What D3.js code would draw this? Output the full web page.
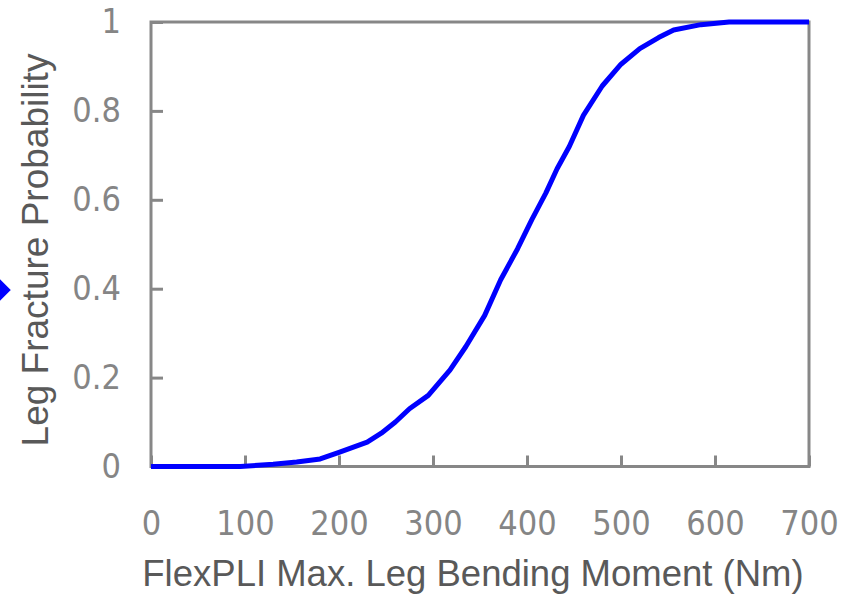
<!DOCTYPE html>
<html>
<head>
<meta charset="utf-8">
<script src="https://cdn.jsdelivr.net/npm/d3@7"></script>
<style>
  html, body { margin: 0; padding: 0; background: #fff; }
  svg { display: block; }
</style>
</head>
<body>
<svg id="chart" width="848" height="595"></svg>
<script>
// Leg fracture risk curve versus FlexPLI maximum bending moment
const moment = [0, 95, 130, 155, 180, 200, 230, 245, 260, 275, 295, 318, 335, 355, 372, 390, 405, 420, 432, 445, 460, 480, 500, 520, 540, 556, 585, 615, 700];
const probability = [0, 0, 0.005, 0.01, 0.017, 0.032, 0.055, 0.075, 0.1, 0.13, 0.16, 0.217, 0.27, 0.34, 0.42, 0.49, 0.555, 0.615, 0.67, 0.72, 0.79, 0.856, 0.905, 0.94, 0.965, 0.982, 0.994, 1, 1];
const xTicks = [0, 100, 200, 300, 400, 500, 600, 700];
const yTicks = [0, 0.2, 0.4, 0.6, 0.8, 1];
const xTitle = "FlexPLI Max. Leg Bending Moment (Nm)";
const yTitle = "Leg Fracture Probability";

const svg = d3.select("#chart");
const plot = { left: 151, right: 809, top: 22, bottom: 466.5 };
const frameColor = "#878787";
const tickFont = "'DejaVu Sans Condensed', 'DejaVu Sans', sans-serif";

const x = d3.scaleLinear().domain([0, 700]).range([plot.left, plot.right]);
const y = d3.scaleLinear().domain([0, 1]).range([plot.bottom, plot.top]);

// marker partly visible at the left edge
svg.append("path")
  .attr("d", d3.symbol().type(d3.symbolDiamond2).size(900)())
  .attr("transform", "translate(-8,290)")
  .attr("fill", "#0000ff");

// plot frame
svg.append("rect")
  .attr("x", plot.left).attr("y", plot.top)
  .attr("width", plot.right - plot.left).attr("height", plot.bottom - plot.top)
  .attr("fill", "none")
  .attr("stroke", frameColor)
  .attr("stroke-width", 3);

// y axis: inward ticks
const gy = svg.append("g")
  .attr("transform", `translate(${plot.left},0)`)
  .call(d3.axisLeft(y).tickValues(yTicks).tickSize(-12).tickPadding(30)
    .tickFormat(d => String(+d.toFixed(1))));
gy.select(".domain").remove();
gy.selectAll(".tick line").attr("stroke", frameColor).attr("stroke-width", 3);
gy.selectAll(".tick text")
  .attr("fill", "#858585")
  .style("font-family", tickFont)
  .style("font-size", "34px");

// x axis: inward ticks
const gx = svg.append("g")
  .attr("transform", `translate(0,${plot.bottom})`)
  .call(d3.axisBottom(x).tickValues(xTicks).tickSize(-11).tickPadding(44));
gx.select(".domain").remove();
gx.selectAll(".tick line").attr("stroke", frameColor).attr("stroke-width", 3);
gx.selectAll(".tick text")
  .attr("fill", "#858585")
  .style("font-family", tickFont)
  .style("font-size", "34px");

// risk curve
const line = d3.line()
  .x((d, i) => x(moment[i]))
  .y(d => y(d));
svg.append("path")
  .datum(probability)
  .attr("d", line)
  .attr("fill", "none")
  .attr("stroke", "#0000ff")
  .attr("stroke-width", 5)
  .attr("stroke-linejoin", "round");

// axis titles
svg.append("text")
  .attr("x", 473).attr("y", 586)
  .attr("text-anchor", "middle")
  .attr("fill", "#595959")
  .style("font-family", "'Liberation Sans', Arial, sans-serif")
  .style("font-size", "36.5px")
  .text(xTitle);

svg.append("text")
  .attr("transform", "translate(48,250) rotate(-90)")
  .attr("text-anchor", "middle")
  .attr("fill", "#595959")
  .style("font-family", "'Liberation Sans', Arial, sans-serif")
  .style("font-size", "37px")
  .text(yTitle);
</script>
</body>
</html>
